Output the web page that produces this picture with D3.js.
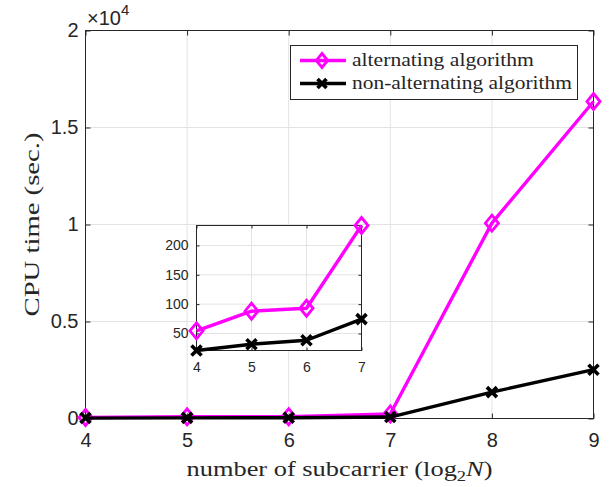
<!DOCTYPE html>
<html><head><meta charset="utf-8">
<script src="https://cdn.jsdelivr.net/npm/d3@7"></script>
<style>body{margin:0;background:#fff}svg{display:block}</style>
</head><body>
<script>
const xValues = [4, 5, 6, 7, 8, 9];
const alternating = [54.5, 88, 93, 234, 10070, 16340];
const nonAlternating = [21, 31.7, 38.5, 74.5, 1360, 2515];
const xTicks = [4, 5, 6, 7, 8, 9];
const yTicks = [0, 5000, 10000, 15000, 20000];
const yTickLabels = ["0", "0.5", "1", "1.5", "2"];
const insetX = [4, 5, 6, 7];
const insetYTicks = [50, 100, 150, 200];
const seriesNames = ["alternating algorithm", "non-alternating algorithm"];

const W = 613, H = 487;
const svg = d3.select("body").append("svg").attr("width", W).attr("height", H);
const axisCol = "#262626", gridCol = "#e3e3e3";
const magenta = "#ff00ff";
const serif = "'Liberation Serif','DejaVu Serif',serif";
const sans = "'Liberation Sans',Arial,sans-serif";

// stretch a text (placed at its group's origin) horizontally to a target width
function fitWidth(t, target) {
  const w = t.node().getComputedTextLength();
  t.attr("transform", `scale(${target / w},1)`);
}

const m = {l: 85.5, r: 593.5, t: 30.5, b: 418.5};
const x = d3.scaleLinear().domain([4, 9]).range([m.l, m.r]);
const y = d3.scaleLinear().domain([0, 20000]).range([m.b, m.t]);

// grid
const g = svg.append("g");
g.selectAll(".gx").data(xTicks).enter().append("line")
  .attr("x1", d => x(d)).attr("x2", d => x(d)).attr("y1", m.t).attr("y2", m.b)
  .attr("stroke", gridCol).attr("stroke-width", 1);
g.selectAll(".gy").data(yTicks).enter().append("line")
  .attr("y1", d => y(d)).attr("y2", d => y(d)).attr("x1", m.l).attr("x2", m.r)
  .attr("stroke", gridCol).attr("stroke-width", 1);

function drawAxes(sel, xs, ys, xt, yt, ytl, tickLen, fs, xOff, yOff) {
  const [x0, x1] = xs.range(), [y0, y1] = ys.range();
  const bx = d3.axisBottom(xs).tickValues(xt).tickSize(-tickLen).tickPadding(xOff).tickFormat(d3.format("d"));
  const ax = sel.append("g").attr("transform", `translate(0,${y0})`).call(bx);
  const tx = sel.append("g").attr("transform", `translate(0,${y1})`).call(d3.axisTop(xs).tickValues(xt).tickSize(-tickLen).tickFormat(""));
  const ly = d3.axisLeft(ys).tickValues(yt).tickSize(-tickLen).tickPadding(yOff).tickFormat((d, i) => ytl ? ytl[i] : d);
  const ay = sel.append("g").attr("transform", `translate(${x0},0)`).call(ly);
  const ry = sel.append("g").attr("transform", `translate(${x1},0)`).call(d3.axisRight(ys).tickValues(yt).tickSize(-tickLen).tickFormat(""));
  [ax, tx, ay, ry].forEach(a => {
    a.select(".domain").remove();
    a.selectAll("line").attr("stroke", axisCol).attr("stroke-width", 1);
    a.selectAll("text").attr("fill", axisCol).style("font-family", sans).style("font-size", fs + "px");
  });
  sel.append("rect").attr("x", x0).attr("y", y1).attr("width", x1 - x0).attr("height", y0 - y1)
    .attr("fill", "none").attr("stroke", axisCol).attr("stroke-width", 1);
}
drawAxes(svg.append("g"), x, y, xTicks, yTicks, yTickLabels, 5, 20, 14, 7);

function diamond(sel, cx, cy, s) {
  sel.append("path").attr("d", `M${cx},${cy - s}L${cx + s * 0.82},${cy}L${cx},${cy + s}L${cx - s * 0.82},${cy}Z`)
    .attr("fill", "none").attr("stroke", magenta).attr("stroke-width", 2.8);
}
function cross(sel, cx, cy, s) {
  sel.append("path").attr("d", `M${cx - s},${cy - s}L${cx + s},${cy + s}M${cx - s},${cy + s}L${cx + s},${cy - s}`)
    .attr("stroke", "#000").attr("stroke-width", 3.6).attr("stroke-linecap", "butt");
}

function drawSeries(sel, xs, ys, xv, vals, col, marker, ms) {
  const line = d3.line().x((d, i) => xs(xv[i])).y(d => ys(d));
  sel.append("path").datum(vals).attr("d", line).attr("fill", "none")
    .attr("stroke", col).attr("stroke-width", 3.4).attr("stroke-linejoin", "round");
  vals.forEach((v, i) => marker(sel, xs(xv[i]), ys(v), ms));
}
const plot = svg.append("g");
drawSeries(plot, x, y, xValues, alternating, magenta, diamond, 8);
drawSeries(plot, x, y, xValues, nonAlternating, "#000", cross, 5);

// exponent
const ex = svg.append("text").attr("x", 87).attr("y", 25).attr("fill", axisCol)
  .style("font-family", sans).style("font-size", "20px");
ex.append("tspan").text("×10");
ex.append("tspan").attr("dy", -10).style("font-size", "15px").text("4");

// axis labels
const xlg = svg.append("g").attr("transform", `translate(${(m.l + m.r) / 2},476)`);
const xl = xlg.append("text").attr("text-anchor", "middle")
  .attr("fill", axisCol).style("font-family", serif).style("font-size", "20px");
xl.append("tspan").text("number of subcarrier (log");
xl.append("tspan").attr("dy", 5).style("font-size", "14px").text("2");
xl.append("tspan").attr("dy", -5).style("font-style", "italic").text("N");
xl.append("tspan").text(")");
fitWidth(xl, 306);

const ylg = svg.append("g").attr("transform", `translate(39,${(m.t + m.b) / 2}) rotate(-90)`);
const yl = ylg.append("text").attr("text-anchor", "middle").attr("fill", axisCol)
  .style("font-family", serif).style("font-size", "20px").text("CPU time (sec.)");
fitWidth(yl, 184);

// legend
const lg = svg.append("g");
lg.append("rect").attr("x", 290.5).attr("y", 45.5).attr("width", 287).attr("height", 54)
  .attr("fill", "#fff").attr("stroke", axisCol).attr("stroke-width", 1);
const rows = [60.5, 83.5];
lg.append("line").attr("x1", 300).attr("x2", 346).attr("y1", rows[0]).attr("y2", rows[0]).attr("stroke", magenta).attr("stroke-width", 3.4);
diamond(lg, 322, rows[0], 7);
lg.append("line").attr("x1", 300).attr("x2", 346).attr("y1", rows[1]).attr("y2", rows[1]).attr("stroke", "#000").attr("stroke-width", 3.4);
cross(lg, 322, rows[1], 4.5);
const legW = [182, 220];
seriesNames.forEach((n, i) => {
  const t = lg.append("g").attr("transform", `translate(352,${rows[i] + 5.5})`).append("text")
    .attr("fill", axisCol).style("font-family", serif).style("font-size", "19px").text(n);
  fitWidth(t, legW[i]);
});

// inset
const ix = d3.scaleLinear().domain([4, 7]).range([196.5, 361.5]);
const iy = d3.scaleLinear().domain([21, 234]).range([350.5, 225.5]);
const ins = svg.append("g");
ins.append("rect").attr("x", 196.5).attr("y", 225.5).attr("width", 165).attr("height", 125).attr("fill", "#fff");
ins.selectAll(".igx").data(insetX).enter().append("line")
  .attr("x1", d => ix(d)).attr("x2", d => ix(d)).attr("y1", 225.5).attr("y2", 350.5).attr("stroke", gridCol);
ins.selectAll(".igy").data(insetYTicks).enter().append("line")
  .attr("y1", d => iy(d)).attr("y2", d => iy(d)).attr("x1", 196.5).attr("x2", 361.5).attr("stroke", gridCol);
drawAxes(ins, ix, iy, insetX, insetYTicks, null, 3, 14, 12, 8);
drawSeries(ins, ix, iy, insetX, alternating.slice(0, 4), magenta, diamond, 8);
drawSeries(ins, ix, iy, insetX, nonAlternating.slice(0, 4), "#000", cross, 5);
</script>
</body></html>
